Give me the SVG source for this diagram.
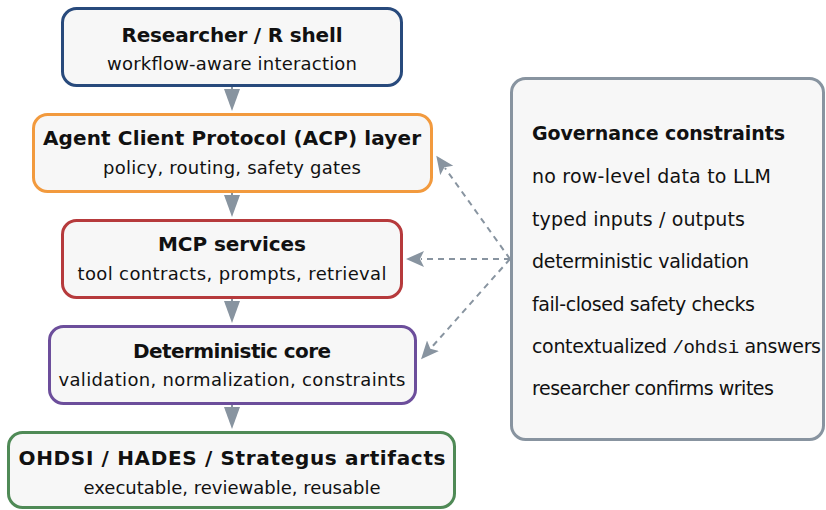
<svg xmlns="http://www.w3.org/2000/svg" width="826" height="510" viewBox="0 0 826 510">
  <defs>
    <style>
      .box { fill: #f7f7f7; stroke-width: 3; }
      .t { font-family: "DejaVu Sans", sans-serif; font-size: 20px; font-weight: bold; fill: #111; text-anchor: middle; }
      .s { font-family: "DejaVu Sans", sans-serif; font-size: 18px; fill: #111; text-anchor: middle; }
      .gt { font-family: "DejaVu Sans", sans-serif; font-size: 19px; font-weight: bold; fill: #111; }
      .gi { font-family: "DejaVu Sans", sans-serif; font-size: 19px; fill: #111; }
      .mono { font-family: "Liberation Mono", "DejaVu Sans Mono", monospace; }
      .flow { stroke: #8894a0; stroke-width: 2; fill: none; }
      .dash { stroke: #8894a0; stroke-width: 2; fill: none; stroke-dasharray: 6 5; }
    </style>
    <marker id="head" markerUnits="userSpaceOnUse" markerWidth="24" markerHeight="18" refX="2" refY="8" orient="auto">
      <path d="M0,0 L22,8 L0,16 z" fill="#8894a0"/>
    </marker>
    <marker id="dhead" markerUnits="userSpaceOnUse" markerWidth="20" markerHeight="18" refX="3" refY="8" orient="auto">
      <path d="M0,0 L18,8 L0,16 L4,8 z" fill="#8894a0"/>
    </marker>
  </defs>

  <g id="connectors">
    <line class="flow" x1="232" y1="87" x2="232" y2="91" marker-end="url(#head)"/>
    <line class="flow" x1="232" y1="193" x2="232" y2="197" marker-end="url(#head)"/>
    <line class="flow" x1="232" y1="299" x2="232" y2="303" marker-end="url(#head)"/>
    <line class="flow" x1="232" y1="405" x2="232" y2="409" marker-end="url(#head)"/>
    <line class="dash" x1="510" y1="259" x2="445" y2="168" marker-end="url(#dhead)"/>
    <line class="dash" x1="510" y1="259" x2="421" y2="259" marker-end="url(#dhead)"/>
    <line class="dash" x1="510" y1="259" x2="431" y2="348" marker-end="url(#dhead)"/>
  </g>

  <g id="researcher">
    <rect class="box" x="62.5" y="8.5" width="339" height="77" rx="14" stroke="#284a7c"/>
    <text class="t" x="232" y="42" textLength="221">Researcher / R shell</text>
    <text class="s" x="232" y="70" textLength="250">workflow-aware interaction</text>
  </g>

  <g id="acp">
    <rect class="box" x="33.5" y="114.5" width="398" height="77" rx="14" stroke="#f29a3e"/>
    <text class="t" x="232" y="145" textLength="378">Agent Client Protocol (ACP) layer</text>
    <text class="s" x="232" y="174" textLength="258">policy, routing, safety gates</text>
  </g>

  <g id="mcp">
    <rect class="box" x="62.5" y="220.5" width="339" height="77" rx="14" stroke="#b63a3c"/>
    <text class="t" x="232" y="251" textLength="148">MCP services</text>
    <text class="s" x="232" y="280" textLength="309">tool contracts, prompts, retrieval</text>
  </g>

  <g id="core">
    <rect class="box" x="49.5" y="326.5" width="366" height="77" rx="14" stroke="#6c4e9b"/>
    <text class="t" x="232" y="358" textLength="198">Deterministic core</text>
    <text class="s" x="232" y="386" textLength="347">validation, normalization, constraints</text>
  </g>

  <g id="artifacts">
    <rect class="box" x="8.5" y="432.5" width="446" height="75" rx="14" stroke="#4f8a56"/>
    <text class="t" x="232" y="465" textLength="427">OHDSI / HADES / Strategus artifacts</text>
    <text class="s" x="232" y="494" textLength="297">executable, reviewable, reusable</text>
  </g>

  <g id="governance">
    <rect class="box" x="511.5" y="78.5" width="312" height="361" rx="14" stroke="#8894a0"/>
    <text class="gt" x="532" y="140" textLength="253">Governance constraints</text>
    <text class="gi" x="532" y="183" textLength="239">no row-level data to LLM</text>
    <text class="gi" x="532" y="226" textLength="213">typed inputs / outputs</text>
    <text class="gi" x="532" y="268" textLength="217">deterministic validation</text>
    <text class="gi" x="532" y="311" textLength="223">fail-closed safety checks</text>
    <text class="gi" x="532" y="353" textLength="289">contextualized <tspan class="mono">/ohdsi</tspan> answers</text>
    <text class="gi" x="532" y="395" textLength="242">researcher confirms writes</text>
  </g>
</svg>
